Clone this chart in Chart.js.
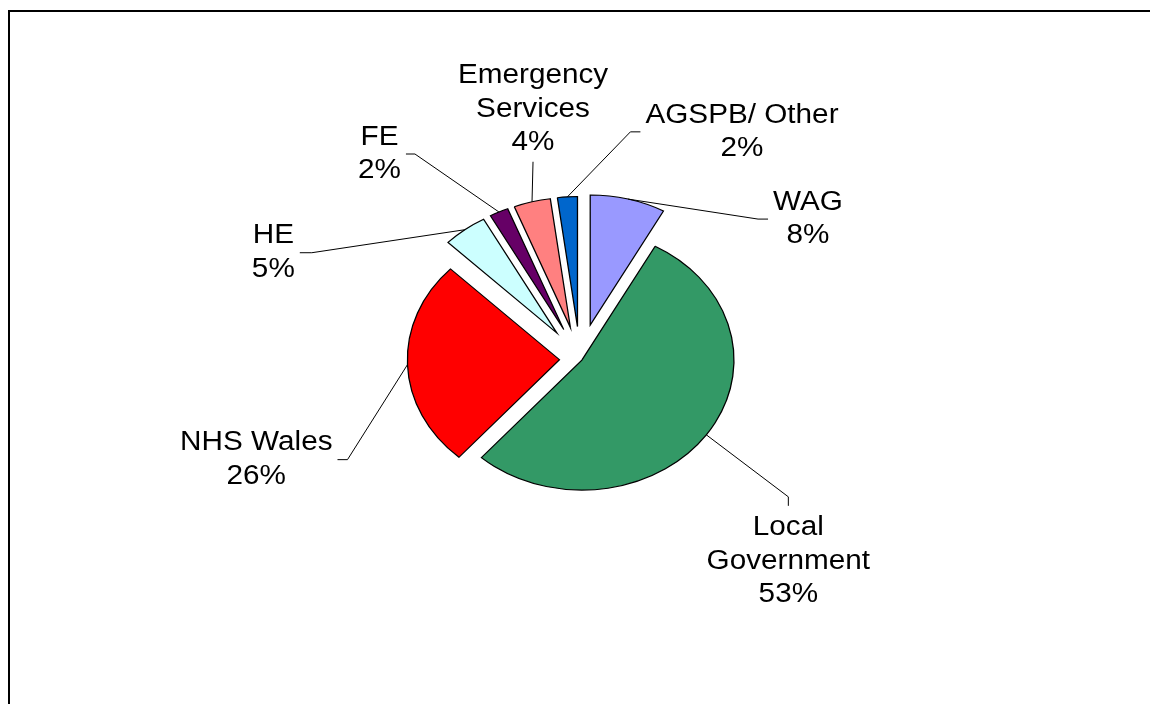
<!DOCTYPE html>
<html><head><meta charset="utf-8">
<script src="https://cdn.jsdelivr.net/npm/chart.js@4/dist/chart.umd.min.js"></script>
<style>
html,body{margin:0;padding:0;background:#fff;overflow:hidden;width:1150px;height:704px}
#wrap{position:relative;width:1150px;height:704px;overflow:hidden}
#frame{position:absolute;left:8px;top:10px;width:1300px;height:900px;border-left:2px solid #000;border-top:2px solid #000}
canvas{position:absolute;left:0;top:0}
</style></head><body>
<div id="wrap"><div id="frame"></div><canvas id="c" width="1150" height="704"></canvas></div>
<script>
// ---- data ----
const categories = ['WAG', 'Local Government', 'NHS Wales', 'HE', 'FE', 'Emergency Services', 'AGSPB/ Other'];
const shares = [8.0, 53.49, 25.8, 4.7, 2.0, 3.9, 2.11];

// ---- styles ----
const colors = ['#9999FF', '#339966', '#FF0000', '#CCFFFF', '#660066', '#FF8080', '#0066CC'];
const explode = [0.27, 0.015, 0.135, 0.25, 0.25, 0.25, 0.25];
const splitName = [false, true, false, false, false, true, false];
const labelLayout = [
  {dx: 130, dy: 20, side: 'right', tick: 10},
  {dx: 82, dy: 62, side: 'bottom', tick: 9},
  {dx: -60, dy: 95, side: 'left', tick: 10},
  {dx: -153, dy: 23, side: 'left', tick: 12},
  {dx: -84, dy: -58, side: 'left', tick: 9},
  {dx: 1, dy: -40, side: 'top', tick: 0},
  {dx: 63, dy: -65, side: 'right', tick: 10}
];
const SX = 1.17;        // horizontal stretch of the pie (elliptical look)
const TEXT_SX = 1.1;    // horizontal stretch of the label text
const FONT_PX = 27;
const LH = 33.5;
const GAP = 5;

const ellipsePlugin = {
  id: 'ellipsePie',
  beforeDatasetsDraw(chart) {
    const ctx = chart.ctx;
    const meta = chart.getDatasetMeta(0);
    meta.data.forEach((arc, i) => {
      const m = (arc.startAngle + arc.endAngle) / 2;
      const e = explode[i] * arc.outerRadius;
      ctx.save();
      ctx.translate(arc.x, arc.y);
      ctx.scale(SX, 1);
      ctx.translate(Math.cos(m) * e, Math.sin(m) * e);
      ctx.translate(-arc.x, -arc.y);
      arc.draw(ctx);
      ctx.restore();
    });
    return false;
  }
};

const labelPlugin = {
  id: 'pieLabels',
  afterDraw(chart) {
    const ctx = chart.ctx;
    const meta = chart.getDatasetMeta(0);
    const total = shares.reduce((a, b) => a + b, 0);
    ctx.save();
    ctx.font = FONT_PX + 'px "Liberation Sans", Arial, sans-serif';
    ctx.fillStyle = '#000';
    ctx.strokeStyle = '#000';
    ctx.lineWidth = 1;
    ctx.textBaseline = 'middle';
    ctx.textAlign = 'center';
    meta.data.forEach((arc, i) => {
      const m = (arc.startAngle + arc.endAngle) / 2;
      const k = (1 + explode[i]) * arc.outerRadius;
      const px = arc.x + SX * Math.cos(m) * k;
      const py = arc.y + Math.sin(m) * k;
      const L = labelLayout[i];
      const ex = px + L.dx, ey = py + L.dy;
      let tx = ex, ty = ey;
      if (L.side === 'right') tx = ex + L.tick;
      else if (L.side === 'left') tx = ex - L.tick;
      else if (L.side === 'bottom') ty = ey + L.tick;
      else ty = ey - L.tick;
      ctx.beginPath();
      ctx.moveTo(px, py);
      ctx.lineTo(ex, ey);
      ctx.lineTo(tx, ty);
      ctx.stroke();

      const lines = (splitName[i] ? categories[i].split(' ') : [categories[i]])
        .concat([Math.round(shares[i] / total * 100) + '%']);
      const w = Math.max(...lines.map(s => ctx.measureText(s).width)) * TEXT_SX;
      const n = lines.length;
      let cx, firstY;
      if (L.side === 'right') { cx = tx + GAP + w / 2; firstY = ty - (n - 1) / 2 * LH; }
      else if (L.side === 'left') { cx = tx - GAP - w / 2; firstY = ty - (n - 1) / 2 * LH; }
      else if (L.side === 'bottom') { cx = tx; firstY = ty + 22; }
      else { cx = tx; firstY = ty - 19 - (n - 1) * LH; }
      lines.forEach((s, j) => {
        ctx.save();
        ctx.translate(cx, firstY + j * LH);
        ctx.scale(TEXT_SX, 1);
        ctx.fillText(s, 0, 0);
        ctx.restore();
      });
    });
    ctx.restore();
  }
};

new Chart(document.getElementById('c').getContext('2d'), {
  type: 'pie',
  data: {
    labels: categories,
    datasets: [{
      data: shares,
      backgroundColor: colors,
      borderColor: '#000',
      borderWidth: 1.1,
      borderJoinStyle: 'miter',
      radius: 130
    }]
  },
  options: {
    responsive: false,
    animation: false,
    radius: 130,
    layout: {padding: {left: 20, right: 10, top: 24, bottom: 10}},
    plugins: {legend: {display: false}, tooltip: {enabled: false}}
  },
  plugins: [ellipsePlugin, labelPlugin]
});
</script>
</body></html>
